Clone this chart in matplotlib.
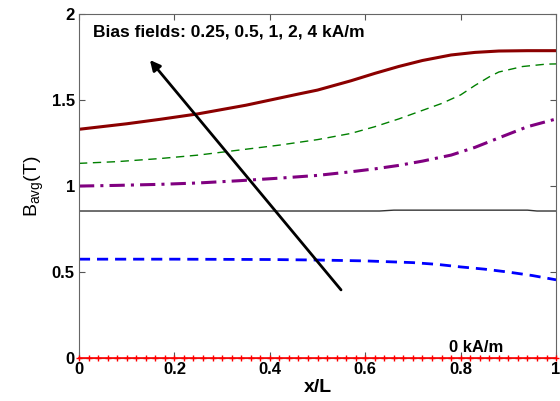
import numpy as np
import matplotlib.pyplot as plt

plt.rcParams['font.family'] = ['Liberation Sans', 'DejaVu Sans']

# curve samples (x/L, B_avg in T)
x4 = [0.0, 0.1, 0.17, 0.25, 0.35, 0.46, 0.5, 0.57, 0.62, 0.67, 0.72, 0.78, 0.83, 0.88, 0.94, 1.0]
b4 = [1.33, 1.362, 1.388, 1.42, 1.47, 1.535, 1.558, 1.612, 1.655, 1.695, 1.73, 1.762, 1.777, 1.785, 1.787, 1.787]
x2 = [0.0, 0.08, 0.17, 0.25, 0.335, 0.42, 0.5, 0.57, 0.62, 0.67, 0.72, 0.76, 0.8, 0.83, 0.86, 0.88, 0.93, 0.98, 1.0]
b2 = [1.132, 1.142, 1.16, 1.18, 1.209, 1.238, 1.27, 1.306, 1.345, 1.39, 1.44, 1.48, 1.53, 1.585, 1.635, 1.663, 1.695, 1.709, 1.71]
x1 = [0.0, 0.08, 0.17, 0.25, 0.335, 0.42, 0.5, 0.57, 0.62, 0.67, 0.72, 0.78, 0.83, 0.88, 0.94, 1.0]
b1 = [1.0, 1.004, 1.01, 1.018, 1.031, 1.046, 1.062, 1.083, 1.1, 1.12, 1.145, 1.18, 1.225, 1.28, 1.345, 1.39]
x05 = [0.0, 0.2, 0.4, 0.6, 0.63, 0.66, 0.8, 0.94, 0.96, 1.0]
b05 = [0.855, 0.855, 0.855, 0.855, 0.855, 0.86, 0.86, 0.86, 0.855, 0.855]
x025 = [0.0, 0.2, 0.4, 0.5, 0.6, 0.65, 0.7, 0.75, 0.8, 0.85, 0.9, 0.95, 1.0]
b025 = [0.575, 0.575, 0.573, 0.57, 0.565, 0.56, 0.555, 0.545, 0.53, 0.517, 0.50, 0.48, 0.455]
x0 = np.linspace(0, 1, 51)
b0 = np.zeros(51)

fig = plt.figure(figsize=(5.6, 4.01), dpi=100)
ax = fig.add_axes([0.141, 0.107, 0.852, 0.858])

ax.plot(x0, b0, color='red', marker='+', markersize=5, lw=1.2, clip_on=False, zorder=3)
ax.plot(x025, b025, color='blue', ls=(0, (4, 2.5)), lw=2)
ax.plot(x05, b05, color='#333333', lw=1)
ax.plot(x1, b1, color='purple', ls=(0, (5, 2, 1, 2)), lw=2.2)
ax.plot(x2, b2, color='green', ls=(0, (6, 4)), lw=1)
ax.plot(x4, b4, color='darkred', lw=2.2)

ax.annotate('', xy=(0.145, 1.745), xytext=(0.553, 0.384),
            arrowprops=dict(arrowstyle='-|>', color='black', lw=2, mutation_scale=15))
ax.text(0.03, 1.87, 'Bias fields: 0.25, 0.5, 1, 2, 4 kA/m', fontsize=12.5, fontweight='bold')
ax.text(0.775, 0.035, '0 kA/m', fontsize=12, fontweight='bold')

ax.set_xlim(0, 1)
ax.set_ylim(0, 2)
ax.set_xticks([0, 0.2, 0.4, 0.6, 0.8, 1])
ax.set_xticklabels(['0', '0.2', '0.4', '0.6', '0.8', '1'])
ax.set_yticks([0, 0.5, 1, 1.5, 2])
ax.set_yticklabels(['0', '0.5', '1', '1.5', '2'])
ax.tick_params(direction='in', top=True, right=True, length=4, color='#555555', labelsize=12, pad=3)
for lab in ax.get_xticklabels() + ax.get_yticklabels():
    lab.set_fontweight('bold')
for sp in ax.spines.values():
    sp.set_color('#666666')
ax.set_xlabel('x/L', fontsize=14, fontweight='bold', labelpad=1)
ax.set_ylabel(r'B$_{\mathregular{avg}}$(T)', fontsize=14, labelpad=4)

fig.savefig('out.png', dpi=100)
